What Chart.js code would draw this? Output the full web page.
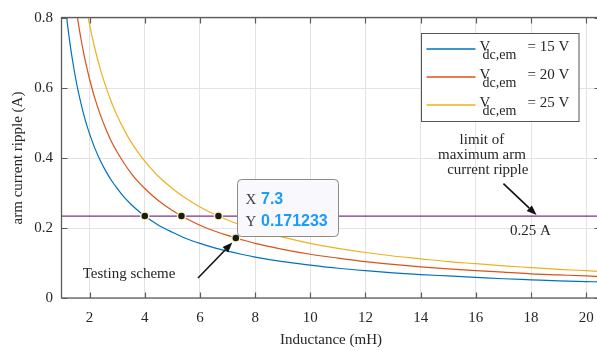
<!DOCTYPE html>
<html>
<head>
<meta charset="utf-8">
<script src="https://cdn.jsdelivr.net/npm/chart.js@4/dist/chart.umd.min.js"></script>
<style>
  html, body { margin: 0; padding: 0; background: #fff; overflow: hidden; }
  #wrap { width: 606px; height: 351px; }
</style>
</head>
<body>
<div id="wrap"><canvas id="c" width="606" height="351"></canvas></div>
<script>
// Arm inductance (mH) sample points
const inductance = [1.0, 1.1, 1.2, 1.3, 1.4, 1.5, 1.6, 1.7, 1.8, 1.9, 2.0, 2.2, 2.4, 2.6, 2.8, 3.0,
  3.25, 3.5, 3.75, 4.0, 4.5, 5.0, 5.5, 6.0, 6.5, 7.0, 7.5, 8.0, 9.0, 10, 11, 12, 13, 14, 15, 16,
  17, 18, 19, 20, 20.5];

// Arm current ripple (A) for each DC voltage
const ripple15V = [null, 0.852, 0.781, 0.721, 0.670, 0.625, 0.586, 0.552, 0.521, 0.493, 0.469, 0.426,
  0.391, 0.361, 0.335, 0.313, 0.288, 0.268, 0.250, 0.234, 0.208, 0.188, 0.170, 0.156, 0.144, 0.134,
  0.125, 0.117, 0.104, 0.094, 0.085, 0.078, 0.072, 0.067, 0.063, 0.059, 0.055, 0.052, 0.049, 0.047, 0.046];
const ripple20V = [null, null, null, null, null, 0.833, 0.781, 0.735, 0.694, 0.658, 0.625, 0.568,
  0.521, 0.481, 0.446, 0.417, 0.385, 0.357, 0.333, 0.313, 0.278, 0.250, 0.227, 0.208, 0.192, 0.179,
  0.167, 0.156, 0.139, 0.125, 0.114, 0.104, 0.096, 0.089, 0.083, 0.078, 0.074, 0.069, 0.066, 0.063, 0.061];
const ripple25V = [null, null, null, null, null, null, null, null, null, 0.822, 0.781, 0.710,
  0.651, 0.601, 0.558, 0.521, 0.481, 0.446, 0.417, 0.391, 0.347, 0.313, 0.284, 0.260, 0.240, 0.223,
  0.208, 0.195, 0.174, 0.156, 0.142, 0.130, 0.120, 0.112, 0.104, 0.098, 0.092, 0.087, 0.082, 0.078, 0.076];

const dcVoltages = [15, 20, 25];
const seriesColors = ['#0072BD', '#D95319', '#EDB120'];

// Ripple limit line and the inductances where each curve meets it
const rippleLimit = 0.234;
const limitCrossings = [4.0, 5.33, 6.67];

// Selected operating point (testing scheme)
const tipX = 7.3;
const tipY = 0.171233;

const xTicks = [2, 4, 6, 8, 10, 12, 14, 16, 18, 20];
const yTicks = [0, 0.2, 0.4, 0.6, 0.8];
const xLabel = 'Inductance (mH)';
const yLabel = 'arm current ripple (A)';

const SERIF = '"Liberation Serif", "Times New Roman", serif';
const SANS = '"Liberation Sans", Arial, sans-serif';
const INK = '#262626';
const AXIS = '#5c5c5c';

const curveSets = [ripple15V, ripple20V, ripple25V].map((vals, i) => ({
  type: 'line',
  label: String(dcVoltages[i]),
  data: inductance.map((x, k) => ({ x: x, y: vals[k] })),
  borderColor: seriesColors[i],
  borderWidth: 1.2,
  pointRadius: 0,
  cubicInterpolationMode: 'monotone',
  spanGaps: false,
  order: 3
}));

const limitSet = {
  type: 'line',
  label: 'limit',
  data: [{ x: 1, y: rippleLimit }, { x: 20.5, y: rippleLimit }],
  borderColor: '#7E2F8E',
  borderWidth: 1.1,
  pointRadius: 0,
  order: 2
};

const markerSet = {
  type: 'scatter',
  label: 'markers',
  data: limitCrossings.map(x => ({ x: x, y: rippleLimit })).concat([{ x: tipX, y: tipY }]),
  pointRadius: 4,
  pointBackgroundColor: '#1b1b1b',
  pointBorderColor: 'rgba(255, 250, 195, 0.95)',
  pointBorderWidth: 1.5,
  order: 1
};

function arrow(ctx, x1, y1, x2, y2) {
  const a = Math.atan2(y2 - y1, x2 - x1);
  const hl = 10, hw = 3.8;
  ctx.save();
  ctx.strokeStyle = '#111';
  ctx.fillStyle = '#111';
  ctx.lineWidth = 1.6;
  ctx.beginPath();
  ctx.moveTo(x1, y1);
  ctx.lineTo(x2 - hl * Math.cos(a), y2 - hl * Math.sin(a));
  ctx.stroke();
  ctx.beginPath();
  ctx.moveTo(x2, y2);
  ctx.lineTo(x2 - hl * Math.cos(a) - hw * Math.sin(a), y2 - hl * Math.sin(a) + hw * Math.cos(a));
  ctx.lineTo(x2 - hl * Math.cos(a) + hw * Math.sin(a), y2 - hl * Math.sin(a) - hw * Math.cos(a));
  ctx.closePath();
  ctx.fill();
  ctx.restore();
}

function roundRect(ctx, x, y, w, h, r) {
  ctx.beginPath();
  ctx.moveTo(x + r, y);
  ctx.lineTo(x + w - r, y);
  ctx.arcTo(x + w, y, x + w, y + r, r);
  ctx.lineTo(x + w, y + h - r);
  ctx.arcTo(x + w, y + h, x + w - r, y + h, r);
  ctx.lineTo(x + r, y + h);
  ctx.arcTo(x, y + h, x, y + h - r, r);
  ctx.lineTo(x, y + r);
  ctx.arcTo(x, y, x + r, y, r);
  ctx.closePath();
}

// Axes box with inward ticks on all four sides
const axesBox = {
  id: 'axesBox',
  afterDatasetsDraw(chart) {
    const { ctx, chartArea: a, scales: { x, y } } = chart;
    const tl = 5.5;
    ctx.save();
    ctx.strokeStyle = AXIS;
    ctx.lineWidth = 1.2;
    ctx.beginPath();
    xTicks.forEach(v => {
      const px = Math.round(x.getPixelForValue(v)) + 0.5;
      ctx.moveTo(px, a.bottom); ctx.lineTo(px, a.bottom - tl);
      ctx.moveTo(px, a.top); ctx.lineTo(px, a.top + tl);
    });
    yTicks.forEach(v => {
      const py = Math.round(y.getPixelForValue(v)) + 0.5;
      ctx.moveTo(a.left, py); ctx.lineTo(a.left + tl, py);
      ctx.moveTo(a.right, py); ctx.lineTo(a.right - tl, py);
    });
    ctx.stroke();
    ctx.lineWidth = 1.3;
    ctx.strokeRect(a.left - 0.5, a.top - 0.5, a.right - a.left, a.bottom - a.top + 0.5);
    ctx.restore();
  }
};

// Text notes, data tip and legend
const notes = {
  id: 'notes',
  afterDraw(chart) {
    const { ctx, chartArea: a, scales: { x, y } } = chart;
    ctx.save();
    ctx.fillStyle = INK;
    ctx.font = '15px ' + SERIF;
    ctx.textBaseline = 'alphabetic';

    // testing scheme note
    ctx.textAlign = 'left';
    ctx.fillText('Testing scheme', x.getPixelForValue(1.75), y.getPixelForValue(0.057));
    const mx = x.getPixelForValue(tipX), my = y.getPixelForValue(tipY);
    arrow(ctx, x.getPixelForValue(5.93), y.getPixelForValue(0.057), mx - 3.5, my + 4.5);

    // limit note
    ctx.fillStyle = INK;
    ctx.font = '15px ' + SERIF;
    ctx.textAlign = 'center';
    const cx = x.getPixelForValue(16.22);
    ctx.fillText('limit of', cx, y.getPixelForValue(0.44));
    ctx.fillText('maximum arm', cx, y.getPixelForValue(0.397));
    ctx.fillText(' current ripple', cx + 4, y.getPixelForValue(0.354));
    arrow(ctx, x.getPixelForValue(17.0), y.getPixelForValue(0.327),
      x.getPixelForValue(18.2), y.getPixelForValue(rippleLimit) - 1);
    ctx.fillStyle = INK;
    ctx.font = '15px ' + SERIF;
    ctx.textAlign = 'left';
    ctx.fillText('0.25 A', x.getPixelForValue(17.24), y.getPixelForValue(0.181));

    // data tip
    const bx = Math.round(mx + 1.5) + 0.5, by = Math.round(my - 59.3) + 0.5;
    const bw = 101, bh = 57;
    roundRect(ctx, bx, by, bw, bh, 4);
    ctx.fillStyle = '#f8f8fd';
    ctx.fill();
    ctx.strokeStyle = '#8a8a8a';
    ctx.lineWidth = 1;
    ctx.stroke();
    ctx.textAlign = 'left';
    ctx.fillStyle = '#404040';
    ctx.font = '15px ' + SERIF;
    ctx.fillText('X', bx + 8, by + 24.5);
    ctx.fillText('Y', bx + 8, by + 46.5);
    ctx.fillStyle = '#1a9bff';
    ctx.font = 'bold 16px ' + SANS;
    ctx.fillText(String(tipX), bx + 23.5, by + 24.5);
    ctx.fillText(String(tipY), bx + 23.5, by + 46.5);

    // legend
    const lw = 157.5, lh = 88;
    const lx = Math.round(a.right - 21) - lw, ly = Math.round(a.top + 15) + 0.5;
    ctx.fillStyle = '#ffffff';
    ctx.fillRect(lx, ly, lw, lh);
    ctx.strokeStyle = '#555';
    ctx.lineWidth = 1;
    ctx.strokeRect(lx, ly, lw, lh);
    dcVoltages.forEach((v, i) => {
      const ry = Math.round(ly + 15) + i * 28;
      ctx.strokeStyle = seriesColors[i];
      ctx.lineWidth = 1.4;
      ctx.beginPath();
      ctx.moveTo(lx + 5, ry); ctx.lineTo(lx + 54, ry);
      ctx.stroke();
      ctx.fillStyle = INK;
      ctx.font = '15px ' + SERIF;
      ctx.fillText('V', lx + 58, ry + 1.5);
      ctx.font = '14px ' + SERIF;
      ctx.fillText('dc,em', lx + 61, ry + 10);
      ctx.font = '15px ' + SERIF;
      ctx.fillText('= ' + v + ' V', lx + 106, ry + 1.5);
    });
    ctx.restore();
  }
};

Chart.defaults.font.family = SERIF;
Chart.defaults.color = INK;

new Chart(document.getElementById('c'), {
  data: { datasets: [markerSet, limitSet].concat(curveSets) },
  options: {
    responsive: false,
    devicePixelRatio: 1,
    animation: false,
    layout: { padding: { top: 15, right: 6, left: 0, bottom: 0 } },
    plugins: { legend: { display: false }, tooltip: { enabled: false } },
    scales: {
      x: {
        type: 'linear',
        min: 1,
        max: 20.5,
        afterBuildTicks: s => { s.ticks = xTicks.map(v => ({ value: v })); },
        afterFit: s => { s.height = 53; },
        ticks: { font: { size: 15, family: SERIF }, color: INK, padding: 11, maxRotation: 0,
          callback: v => String(v) },
        grid: { color: '#e3e3e3', lineWidth: 1, drawTicks: false },
        border: { display: false },
        title: { display: true, text: xLabel, font: { size: 15, family: SERIF }, color: INK,
          padding: { top: 0, bottom: 2 } }
      },
      y: {
        type: 'linear',
        min: 0,
        max: 0.8,
        afterBuildTicks: s => { s.ticks = yTicks.map(v => ({ value: v })); },
        afterFit: s => { s.width = 62; },
        ticks: { font: { size: 15, family: SERIF }, color: INK, padding: 9,
          callback: v => String(v) },
        grid: { color: '#e3e3e3', lineWidth: 1, drawTicks: false },
        border: { display: false },
        title: { display: true, text: yLabel, font: { size: 15, family: SERIF }, color: INK,
          padding: { top: 9, bottom: 0 } }
      }
    }
  },
  plugins: [axesBox, notes]
});
</script>
</body>
</html>
